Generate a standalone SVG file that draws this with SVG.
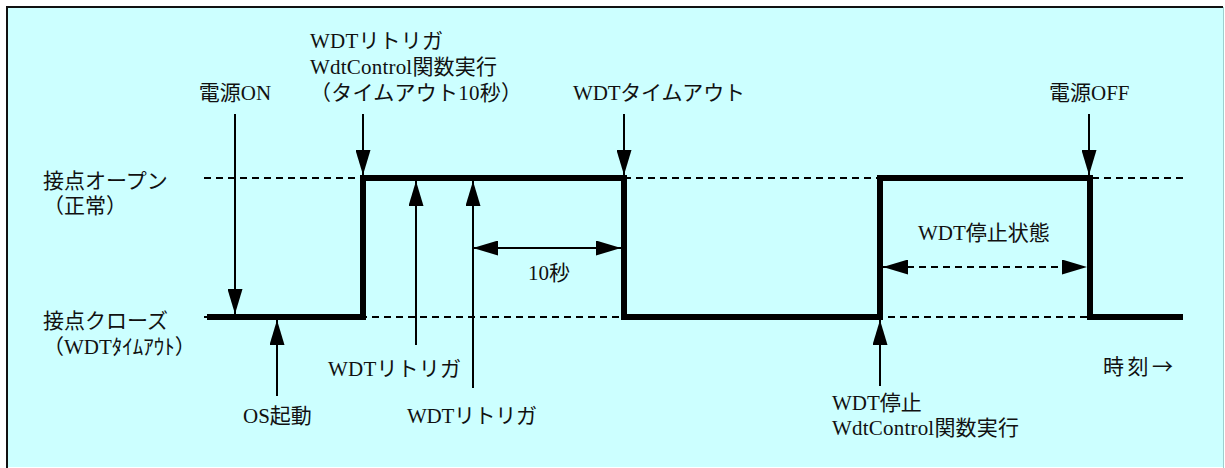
<svg xmlns="http://www.w3.org/2000/svg" width="1225" height="468" viewBox="0 0 1225 468">
<style>
text{font-family:"Liberation Serif","Noto Sans CJK JP",serif;font-size:21px;fill:#111}
.cjk{font-family:"Noto Sans CJK JP",sans-serif}
.lvl{fill:none;stroke:#000;stroke-width:2;stroke-dasharray:7 5}
.sig{fill:none;stroke:#000;stroke-width:6;stroke-linejoin:miter}
.arr{fill:none;stroke:#000;stroke-width:2;marker-end:url(#ah)}
.dbl{fill:none;stroke:#000;stroke-width:2;marker-start:url(#ah);marker-end:url(#ah)}
</style>
<defs>
<marker id="ah" viewBox="0 0 25 15" markerWidth="25" markerHeight="15" refX="25" refY="7.5" orient="auto-start-reverse" markerUnits="userSpaceOnUse">
<path d="M0,0 L25,7.5 L0,15 Z" fill="#000"/>
</marker>
</defs>
<rect x="6" y="6" width="1217" height="461" fill="#ccffff"/>
<line x1="6" y1="7" x2="1223" y2="7" stroke="#111" stroke-width="2"/>
<line x1="7" y1="6" x2="7" y2="468" stroke="#111" stroke-width="2"/>
<line x1="1223.5" y1="7" x2="1223.5" y2="468" stroke="#9fcfcf" stroke-width="1"/>
<g id="levels">
<line class="lvl" x1="204" y1="178" x2="1188" y2="178"/>
<line class="lvl" x1="204" y1="317" x2="1188" y2="317"/>
</g>
<g id="signal">
<path class="sig" d="M207,317 H363 V178 H624 V317 H880 V178 H1090 V317 H1183"/>
</g>
<g id="connectors">
<line class="arr" x1="235" y1="114" x2="235" y2="314"/>
<line class="arr" x1="363" y1="114" x2="363" y2="175"/>
<line class="arr" x1="624" y1="114" x2="624" y2="175"/>
<line class="arr" x1="1089" y1="114" x2="1089" y2="175"/>
<line class="arr" x1="277" y1="396" x2="277" y2="320"/>
<line class="arr" x1="416" y1="345" x2="416" y2="181"/>
<line class="arr" x1="473" y1="388" x2="473" y2="181"/>
<line class="arr" x1="880" y1="386" x2="880" y2="320"/>
<line class="dbl" x1="473" y1="248" x2="621" y2="248"/>
<line class="dbl" x1="883" y1="267" x2="1087" y2="267" stroke-dasharray="7 5"/>
</g>
<g id="label-open">
<text x="43" y="188">接点オープン</text>
<text x="43" y="213">（正常）</text>
</g>
<g id="label-close">
<text x="43" y="328">接点クローズ</text>
<text x="43" y="354">（WDTﾀｲﾑｱｳﾄ）</text>
</g>
<g id="label-power-on">
<text x="235" y="100" text-anchor="middle">電源ON</text>
</g>
<g id="label-retrigger-start">
<text x="310" y="48" textLength="133">WDTリトリガ</text>
<text x="310" y="74" textLength="187">WdtControl関数実行</text>
<text x="310" y="100" textLength="212">（タイムアウト10秒）</text>
</g>
<g id="label-timeout">
<text x="573" y="100" textLength="172">WDTタイムアウト</text>
</g>
<g id="label-power-off">
<text x="1049" y="100">電源OFF</text>
</g>
<g id="label-os">
<text x="243" y="423">OS起動</text>
</g>
<g id="label-retrigger-1">
<text x="328" y="376" textLength="133">WDTリトリガ</text>
</g>
<g id="label-retrigger-2">
<text x="407" y="423" textLength="130">WDTリトリガ</text>
</g>
<g id="label-10s">
<text x="528" y="280">10秒</text>
</g>
<g id="label-stop-state">
<text x="918" y="240">WDT停止状態</text>
</g>
<g id="label-stop">
<text x="832" y="410">WDT停止</text>
<text x="832" y="435" textLength="187">WdtControl関数実行</text>
</g>
<g id="label-time">
<text x="1103" y="374" textLength="70">時刻<tspan class="cjk">→</tspan></text>
</g>
</svg>
